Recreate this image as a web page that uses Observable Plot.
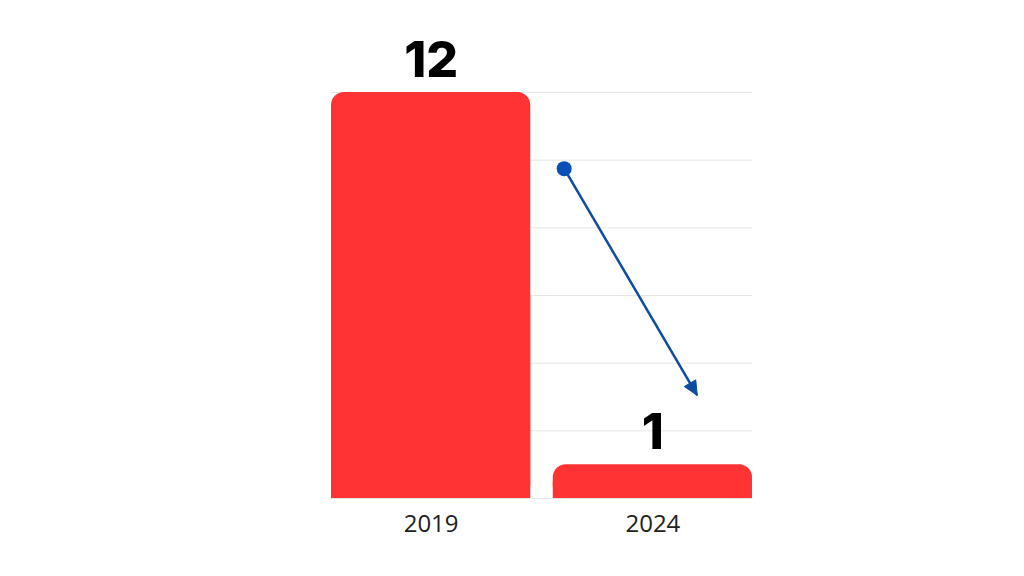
<!DOCTYPE html>
<html>
<head>
<meta charset="utf-8">
<script src="https://cdn.jsdelivr.net/npm/d3@7"></script>
<script src="https://cdn.jsdelivr.net/npm/@observablehq/plot@0.6"></script>
<style>
  html, body { margin: 0; padding: 0; background: #ffffff; }
  #chart svg { display: block; }
</style>
</head>
<body>
<div id="chart"></div>
<script>
// Data
const years = [2019, 2024];
const values = [12, 1];
const gridValues = [0, 2, 4, 6, 8, 10, 12];
// Arrow annotation (data units)
const arrowFrom = { year: 2022.0, value: 9.75 };
const arrowTo = { year: 2025.0, value: 3.05 };

const halfWidth = 2.246; // bar half width, in years
const data = years.map((y, i) => ({ year: y, value: values[i] }));

const W = 1024, H = 576, mL = 331, mR = 272, mT = 92, mB = 78;
const xDomain = [2019 - halfWidth, 2024 + halfWidth];
const pxPerYear = (W - mL - mR) / (xDomain[1] - xDomain[0]);
const pxPerUnit = (H - mT - mB) / 12;
const adx = (arrowTo.year - arrowFrom.year) * pxPerYear;
const ady = (arrowFrom.value - arrowTo.value) * pxPerUnit; // downward in screen
const arrowAngle = Math.atan2(adx, -ady) * 180 / Math.PI;

const headShape = {
  draw(context, l) {
    const w = 6.5;
    context.moveTo(0, -l);
    context.lineTo(-w, 0);
    context.lineTo(w, 0);
    context.closePath();
  }
};

const chart = Plot.plot({
  width: W,
  height: H,
  marginLeft: mL,
  marginRight: mR,
  marginTop: mT,
  marginBottom: mB,
  style: { background: "#ffffff", fontFamily: "'Open Sans', sans-serif" },
  x: { domain: xDomain, ticks: years, tickFormat: d => String(d), tickSize: 0, tickPadding: 16, label: null },
  y: { domain: [0, 12], axis: null },
  marks: [
    Plot.ruleY(gridValues, { stroke: "#e6e6e6", strokeWidth: 1 }),
    Plot.rect(data, { x1: d => d.year - halfWidth, x2: d => d.year + halfWidth, y1: 0, y2: "value", fill: "#ff3333", rx: 13 }),
    Plot.rect(data, { x1: d => d.year - halfWidth, x2: d => d.year + halfWidth, y1: 0, y2: d => d.value / 2, fill: "#ff3333" }),
    Plot.text(data, { x: "year", y: "value", text: d => String(d.value), dy: -32, fontSize: 50, fontWeight: 800, fill: "#000000", fontFamily: "Inter, sans-serif" }),
    Plot.link([{}], { x1: () => arrowFrom.year, y1: () => arrowFrom.value, x2: () => arrowTo.year, y2: () => arrowTo.value, stroke: "#0d4c9e", strokeWidth: 2.5 }),
    Plot.vector([arrowTo], { x: "year", y: "value", rotate: arrowAngle, length: 14, anchor: "end", shape: headShape, fill: "#0d4c9e", stroke: "#0d4c9e", strokeWidth: 1 }),
    Plot.dot([arrowFrom], { x: "year", y: "value", r: 7.5, fill: "#0a4fb5" })
  ]
});

d3.select(chart).selectAll("g[aria-label='x-axis tick label']").attr("font-size", 24).attr("fill", "#222222");
document.getElementById("chart").appendChild(chart);
</script>
</body>
</html>
